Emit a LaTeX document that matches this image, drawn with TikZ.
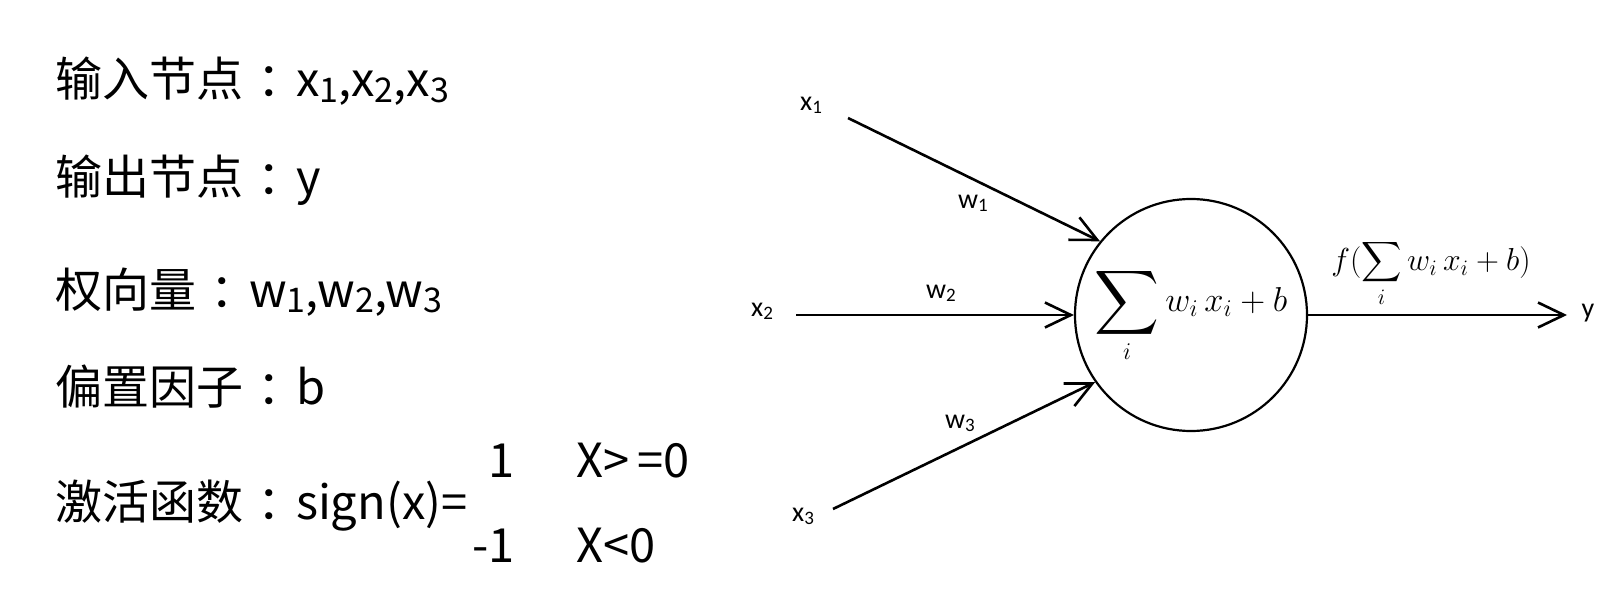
\documentclass[tikz,border=0pt]{standalone}
\usepackage{exscale}
\usepackage{fontspec}
\setmainfont{Noto Sans CJK SC}
\newfontfamily\lbl{Carlito}
\usepackage{graphicx}
\usetikzlibrary{arrows.meta}
\newcommand{\sbs}[1]{\raisebox{-0.12em}{\fontsize{17}{17}\selectfont #1}}
\newcommand{\lsb}[1]{\raisebox{-0.1em}{\fontsize{9.5}{10}\selectfont #1}}
\newcommand{\cjkcolon}{\makebox[1.12em][l]{\hspace{0.3em}：}}
\newcommand{\bigsum}{\mathop{\vcenter{\hbox{\scalebox{1.3}{$\displaystyle\sum$}}}}\limits}
\newcommand{\midsum}{\mathop{\vcenter{\hbox{\scalebox{0.88}{$\displaystyle\sum$}}}}\limits}
\begin{document}
\begin{tikzpicture}[x=0.5pt,y=-0.5pt,
  cjk/.style={inner sep=0pt, anchor=base west, font=\fontsize{23.5}{28}\selectfont},
  cjkr/.style={inner sep=0pt, anchor=base east, font=\fontsize{23.5}{28}\selectfont},
  lab/.style={inner sep=0pt, font=\lbl\fontsize{14}{16}\selectfont},
  conn/.style={line width=1.3pt, -{Straight Barb[length=13pt,width=12.5pt]}},
  neuron/.style={circle, draw, line width=1.1pt, minimum size=116pt, inner sep=0pt, font=\fontsize{17.28}{20}\selectfont},
  formula/.style={inner sep=0pt, font=\fontsize{17.28}{20}\selectfont}]
\fill[white] (0,0) rectangle (1614,605);
\useasboundingbox (0,0) rectangle (1614,605);

% left text
\node[cjk] (l1) at (55,97) {输入节点\cjkcolon x\sbs{1},x\sbs{2},x\sbs{3}};
\node[cjk] (l2) at (55,194) {输出节点\cjkcolon y};
\node[cjk] (l3) at (55,307) {权向量\cjkcolon w\sbs{1},w\sbs{2},w\sbs{3}};
\node[cjk] (l4) at (55,404) {偏置因子\cjkcolon b};
\node[cjk] (l5) at (55,519) {激活函数\cjkcolon sign(x)=};
\node[cjkr] (v1) at (515,477) {1};
\node[cjkr] (v2) at (515,562) {-1};
\node[cjk] (c1) at (576,477) {X>\,=0};
\node[cjk] (c2) at (576,562) {X<0};

% neuron
\node[neuron] (c) at (1191,315) {$\bigsum_{i} w_i\,x_i + b$};

\node[lab] (x1) at (811,105) {x\lsb{1}};
\node[lab] (x2) at (762,311) {x\lsb{2}};
\node[lab] (x3) at (803,516) {x\lsb{3}};
\node[lab] (w1) at (973,203) {w\lsb{1}};
\node[lab] (w2) at (941,293) {w\lsb{2}};
\node[lab] (w3) at (960,423) {w\lsb{3}};
\node[lab] (y) at (1588,313) {y};

\coordinate (x1s) at (848,118);
\coordinate (x2s) at (796,315);
\coordinate (x3s) at (833,509);
\coordinate (ye) at (1567,315);

\draw[conn] (x1s) -- (c.141);
\draw[conn] (x2s) -- (c.west);
\draw[conn] (x3s) -- (c.215);
\draw[conn] (c.east) -- (ye);

\node[formula] (f) at (1431,274) {\scalebox{0.92}{$f(\midsum_{i} w_i\,x_i + b)$}};
\end{tikzpicture}
\end{document}
